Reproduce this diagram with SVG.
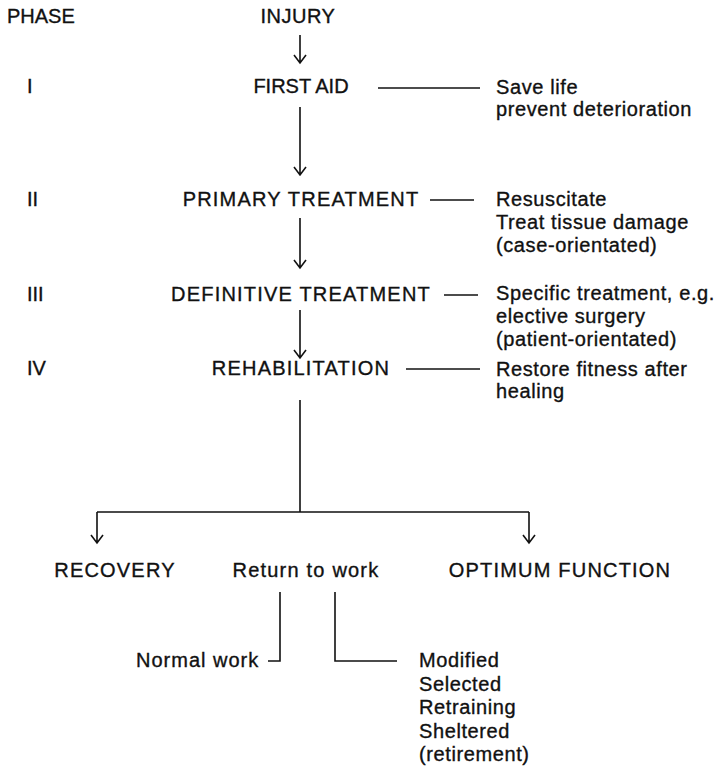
<svg xmlns="http://www.w3.org/2000/svg" width="718" height="768" viewBox="0 0 718 768">
<style>
text{font-family:"Liberation Sans",Arial,sans-serif;font-size:20px;fill:#111;stroke:#111;stroke-width:0.35}
.c{text-anchor:middle;letter-spacing:1.2px}
.s{letter-spacing:0.6px}
.ln{stroke:#111;stroke-width:1.6;fill:none}
</style>
<rect width="718" height="768" fill="#fff"/>
<g id="phases">
<text x="7" y="23">PHASE</text>
<text x="27" y="93">I</text>
<text x="27" y="206">II</text>
<text x="27" y="301">III</text>
<text x="27" y="375">IV</text>
</g>
<g id="injury"><text x="298" y="23" text-anchor="middle" letter-spacing="0.5">INJURY</text></g>
<g id="firstaid"><text x="301" y="93" text-anchor="middle">FIRST AID</text></g>
<g id="firstaid-note">
<text class="s" x="496" y="94">Save life</text>
<text class="s" x="496" y="116">prevent deterioration</text>
</g>
<g id="primary"><text class="c" x="301" y="206">PRIMARY TREATMENT</text></g>
<g id="primary-note">
<text class="s" x="496" y="206">Resuscitate</text>
<text class="s" x="496" y="229">Treat tissue damage</text>
<text class="s" x="496" y="252">(case-orientated)</text>
</g>
<g id="definitive"><text class="c" x="301" y="301" letter-spacing="1.8">DEFINITIVE TREATMENT</text></g>
<g id="definitive-note">
<text class="s" x="496" y="300">Specific treatment, e.g.</text>
<text class="s" x="496" y="323">elective surgery</text>
<text class="s" x="496" y="346">(patient-orientated)</text>
</g>
<g id="rehab"><text class="c" x="301" y="375">REHABILITATION</text></g>
<g id="rehab-note">
<text class="s" x="496" y="376">Restore fitness after</text>
<text class="s" x="496" y="398">healing</text>
</g>
<g id="recovery"><text class="c" x="115" y="577">RECOVERY</text></g>
<g id="return"><text class="c" x="306" y="577">Return to work</text></g>
<g id="optimum"><text class="c" x="560" y="577">OPTIMUM FUNCTION</text></g>
<g id="normal"><text x="136" y="667" letter-spacing="1">Normal work</text></g>
<g id="modified">
<text class="s" x="419" y="667">Modified</text>
<text class="s" x="419" y="690.5">Selected</text>
<text class="s" x="419" y="714">Retraining</text>
<text class="s" x="419" y="737.5">Sheltered</text>
<text class="s" x="419" y="761">(retirement)</text>
</g>
<g id="connectors" class="ln">
<path d="M300 35V63M294 55L300 63L306 55"/>
<path d="M300 107V175M294 167L300 175L306 167"/>
<path d="M300 218V268M294 260L300 268L306 260"/>
<path d="M300 310V358M294 350L300 358L306 350"/>
<path d="M378 88H480"/>
<path d="M430 200H474"/>
<path d="M444 295H478"/>
<path d="M406 369H480"/>
<path d="M300 400V512M97 512H529"/>
<path d="M97 512V543M91 535L97 543L103 535"/>
<path d="M529 512V543M523 535L529 543L535 535"/>
<path d="M280 592V661H268"/>
<path d="M335 592V661H397"/>
</g>
</svg>
